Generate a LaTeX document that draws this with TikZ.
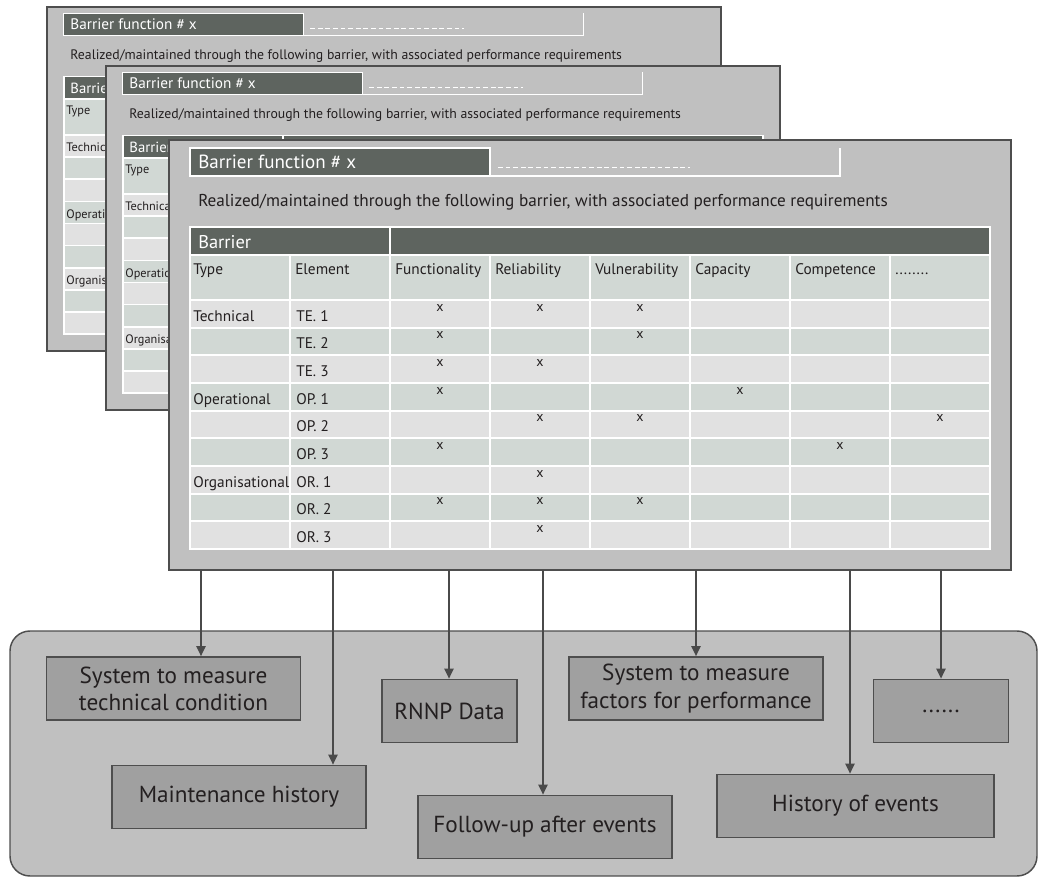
\documentclass[tikz,border=0pt]{standalone}
\usepackage{fontspec}
\setmainfont{PT Sans}
\usetikzlibrary{arrows.meta}

\definecolor{ink}{HTML}{231F20}
\definecolor{cardgray}{HTML}{C0C0C0}
\definecolor{framegray}{HTML}{4E4E4E}
\definecolor{headdark}{HTML}{5E645F}
\definecolor{rowlight}{HTML}{E1E1E1}
\definecolor{rowgreen}{HTML}{D1D8D4}
\definecolor{boxgray}{HTML}{A0A0A0}
\definecolor{linegray}{HTML}{4A4A4A}

\newcommand\moredots{........}
% sheets further back only need what stays uncovered
\newif\iffullsheet

\tikzset{
  cardframe/.style={draw=framegray, line width=1.6pt, fill=cardgray},
  titlebar/.style={draw=white, line width=0.9pt, fill=headdark},
  titlefont/.style={inner sep=0pt, text=white, font=\fontsize{14.3}{17}\selectfont},
  leadfont/.style={inner sep=0pt, text=ink, font=\fontsize{12.9}{15}\selectfont},
  headfont/.style={inner sep=0pt, text=white, font=\fontsize{13.8}{16}\selectfont},
  cellfont/.style={inner sep=0pt, text=ink, font=\fontsize{11.5}{14}\selectfont},
  markfont/.style={inner sep=0pt, text=ink, font=\fontsize{10.5}{12}\selectfont},
  panel/.style={draw=framegray, line width=1.1pt, fill=cardgray, rounded corners=15pt},
  sourcebox/.style={draw=framegray, line width=1.1pt, fill=boxgray, inner sep=0pt,
    text=ink, align=center, font=\fontsize{17.4}{20.4}\selectfont},
  widebox/.style={sourcebox, minimum width=190.5pt, minimum height=47.5pt},
  smallbox/.style={sourcebox, minimum width=101.5pt, minimum height=47.5pt},
  longbox/.style={sourcebox, minimum width=208pt, minimum height=47.5pt},
  feed/.style={draw=linegray, line width=1.1pt, -{Triangle[length=7.5pt,width=7pt]}},
}

% One barrier-function sheet, drawn in its own frame (origin at top left, 842 x 430)
\newcommand\barriercard[1]{%
  \draw[cardframe] (0,0) rectangle (842,430);
  \draw[titlebar] (21,8) rectangle (321,36);
  \node[titlefont, anchor=base west] (#1-title) at (29,28) {Barrier function \# x};
  \draw[white, line width=0.9pt] (321,36) -- (671,36) -- (671,8);
  \draw[white, line width=0.6pt, dash pattern=on 3.6pt off 2.1pt] (329,27) -- (521,27);
  \node[leadfont, anchor=base west] (#1-lead) at (29,66)
    {Realized/maintained through the following barrier, with associated performance requirements};
  % table: white grid under the cells
  \fill[white] (20,86) rectangle (822,410);
  \fill[headdark] (22,88) rectangle (220,114);
  \fill[headdark] (222,88) rectangle (820,114);
  \node[headfont, anchor=base west] (#1-barrier) at (29,108) {Barrier};
  \foreach \c in {0,1,2,3,4,5,6,7}{
    \fill[rowgreen] ({22+100*\c},116) rectangle ({120+100*\c},159);
  }
  \node[cellfont, anchor=base west] (#1-h0) at (24,134) {Type};
  \foreach \r in {0,1,2,3,4,5,6,7,8}{
    \pgfmathsetmacro\rt{160+27.667*\r}
    \pgfmathsetmacro\rb{\rt+27.667}
    \pgfmathtruncatemacro\odd{mod(\r,2)}
    \ifnum\odd=1 \def\rowfill{rowgreen}\else\def\rowfill{rowlight}\fi
    \foreach \c in {0,1,2,3,4,5,6,7}{
      \fill[\rowfill] ({22+100*\c},\rt+1) rectangle ({120+100*\c},\rb-1);
    }
  }
  \foreach \r/\lab in {0/Technical,3/Operational,6/Organisational}{
    \node[cellfont, anchor=base west] (#1-t\r) at (24,{160+27.667*\r+21}) {\lab};
  }
  \iffullsheet
    \foreach \c/\lab in {1/Element,2/Functionality,3/Reliability,4/Vulnerability,5/Capacity,6/Competence,7/\moredots}{
      \node[cellfont, anchor=base west] (#1-h\c) at ({26+100*\c},134) {\lab};
    }
    \foreach \r/\lab in {0/TE. 1,1/TE. 2,2/TE. 3,3/OP. 1,4/OP. 2,5/OP. 3,6/OR. 1,7/OR. 2,8/OR. 3}{
      \node[cellfont, anchor=base west] (#1-e\r) at (127,{160+27.667*\r+21}) {\lab};
    }
    \foreach \r/\c in {0/2,0/3,0/4,1/2,1/4,2/2,2/3,3/2,3/5,4/3,4/4,4/7,5/2,5/6,6/3,7/2,7/3,7/4,8/3}{
      \node[markfont] (#1-x\r-\c) at ({71+100*\c},{160+27.667*\r+7.5}) {x};
    }
  \fi
}

\begin{document}
\begin{tikzpicture}[x=0.75pt, y=-0.75pt]
\useasboundingbox (0,0) rectangle (1039,878);

% stacked sheets, back to front; each sheet is clipped to the part left uncovered
\fullsheetfalse
\begin{scope}
  \clip (40,0) rectangle (107,360) (40,0) rectangle (730,67);
  \begin{scope}[shift={(47,7)}, scale=0.8, every node/.append style={transform shape}]
    \barriercard{back}
  \end{scope}
\end{scope}
\begin{scope}
  \clip (100,60) rectangle (170,420) (100,60) rectangle (790,141);
  \begin{scope}[shift={(106,66)}, scale=0.8, every node/.append style={transform shape}]
    \barriercard{mid}
  \end{scope}
\end{scope}
\fullsheettrue
\begin{scope}[shift={(169,140)}]
  \barriercard{front}
\end{scope}

% data sources panel
\draw[panel] (10,631) rectangle (1037,876);

\node[widebox] (b1) at (173.5,688.5) {System to measure\\technical condition};
\node[widebox] (b2) at (239,797) {Maintenance history};
\node[smallbox] (b3) at (449.5,711) {RNNP Data};
\node[widebox] (b4) at (545,827) {Follow-up after events};
\node[widebox] (b5) at (696,688.5) {System to measure\\factors for performance};
\node[smallbox] (b6) at (941,711) {......};
\node[longbox] (b7) at (855.5,806) {History of events};

% feeds from the front sheet
\coordinate (s1) at (201,570);
\coordinate (s2) at (333,570);
\coordinate (s3) at (449,570);
\coordinate (s4) at (543,570);
\coordinate (s5) at (696,570);
\coordinate (s6) at (850,570);
\coordinate (s7) at (941,570);
\draw[feed] (s1) -- (s1 |- b1.north);
\draw[feed] (s2) -- (s2 |- b2.north);
\draw[feed] (s3) -- (s3 |- b3.north);
\draw[feed] (s4) -- (s4 |- b4.north);
\draw[feed] (s5) -- (s5 |- b5.north);
\draw[feed] (s6) -- (s6 |- b7.north);
\draw[feed] (s7) -- (s7 |- b6.north);
\end{tikzpicture}
\end{document}
